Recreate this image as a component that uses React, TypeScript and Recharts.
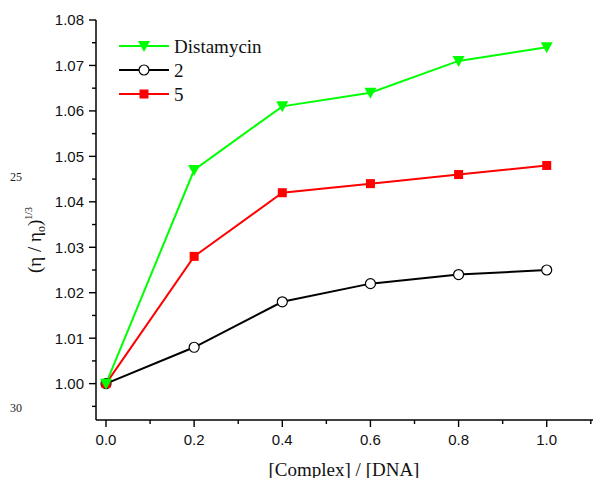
import { LineChart, Line, XAxis, YAxis } from "recharts";

const ratios = [0, 0.2, 0.4, 0.6, 0.8, 1.0];
const distamycin = [1.0, 1.047, 1.061, 1.064, 1.071, 1.074];
const complex2 = [1.0, 1.008, 1.018, 1.022, 1.024, 1.025];
const complex5 = [1.0, 1.028, 1.042, 1.044, 1.046, 1.048];

const xTicks = [0, 0.1, 0.2, 0.3, 0.4, 0.5, 0.6, 0.7, 0.8, 0.9, 1.0, 1.1];
const yTicks = [
  0.995, 1.0, 1.005, 1.01, 1.015, 1.02, 1.025, 1.03, 1.035, 1.04, 1.045, 1.05,
  1.055, 1.06, 1.065, 1.07, 1.075, 1.08,
];

const SERIF = "'Liberation Serif', 'Times New Roman', serif";
const SANS = "'Liberation Sans', Arial, sans-serif";

const GREEN = "#00FF00";
const RED = "#FF0000";
const BLACK = "#000000";

const data = ratios.map((x, i) => ({
  x,
  distamycin: distamycin[i],
  c2: complex2[i],
  c5: complex5[i],
}));

function Triangle({ cx, cy, key }: any) {
  if (cx == null || cy == null) return null;
  return (
    <polygon
      key={key}
      points={`${cx - 6},${cy - 5} ${cx + 6},${cy - 5} ${cx},${cy + 6}`}
      fill={GREEN}
    />
  );
}

function Square({ cx, cy, key }: any) {
  if (cx == null || cy == null) return null;
  return <rect key={key} x={cx - 4.5} y={cy - 4.5} width={9} height={9} fill={RED} />;
}

function XTick({ x, y, payload }: any) {
  const v = payload.value;
  const major = Math.round(v * 10) % 2 === 0;
  return (
    <g>
      <line x1={x} y1={y} x2={x} y2={y + (major ? 7 : 4)} stroke={BLACK} strokeWidth={1.4} />
      {major && (
        <text x={x} y={y + 25} textAnchor="middle" fontSize={15} fontFamily={SANS} fill="#111">
          {v.toFixed(1)}
        </text>
      )}
    </g>
  );
}

function YTick({ x, y, payload }: any) {
  const v = payload.value;
  const major = Math.round(v * 1000) % 10 === 0;
  return (
    <g>
      <line x1={x - (major ? 7 : 4)} y1={y} x2={x} y2={y} stroke={BLACK} strokeWidth={1.4} />
      {major && (
        <text x={x - 12} y={y} dy="0.36em" textAnchor="end" fontSize={15} fontFamily={SANS} fill="#111">
          {v.toFixed(2)}
        </text>
      )}
    </g>
  );
}

const legendItems = [
  { name: "Distamycin", color: GREEN, marker: "triangle" },
  { name: "2", color: BLACK, marker: "circle" },
  { name: "5", color: RED, marker: "square" },
];

function LegendMarker({ kind, cx, cy }: { kind: string; cx: number; cy: number }) {
  if (kind === "triangle") return <Triangle cx={cx} cy={cy} />;
  if (kind === "square") return <Square cx={cx} cy={cy} />;
  return <circle cx={cx} cy={cy} r={5} fill="#fff" stroke={BLACK} strokeWidth={1.2} />;
}

export default function App() {
  return (
    <div style={{ position: "absolute", left: 0, top: 0, width: 593, height: 478, background: "#fff" }}>
      <LineChart width={593} height={478} data={data} margin={{ top: 20, right: 0, bottom: 0, left: 0 }}>
        <XAxis
          dataKey="x"
          type="number"
          domain={[-0.0227, 1.105]}
          allowDataOverflow
          ticks={xTicks}
          interval={0}
          tick={<XTick />}
          tickLine={false}
          tickSize={0}
          tickMargin={0}
          height={58}
          axisLine={{ stroke: BLACK, strokeWidth: 1.5 }}
        />
        <YAxis
          type="number"
          domain={[0.992, 1.08]}
          allowDataOverflow
          ticks={yTicks}
          interval={0}
          tick={<YTick />}
          tickLine={false}
          tickSize={0}
          tickMargin={0}
          width={96}
          axisLine={{ stroke: BLACK, strokeWidth: 1.5 }}
        />
        <Line
          dataKey="c2"
          stroke={BLACK}
          strokeWidth={2}
          isAnimationActive={false}
          dot={{ r: 5, fill: "#fff", stroke: BLACK, strokeWidth: 1.2 }}
        />
        <Line
          dataKey="c5"
          stroke={RED}
          strokeWidth={2}
          isAnimationActive={false}
          dot={(p: any) => <Square key={p.index} cx={p.cx} cy={p.cy} />}
        />
        <Line
          dataKey="distamycin"
          stroke={GREEN}
          strokeWidth={2}
          isAnimationActive={false}
          dot={(p: any) => <Triangle key={p.index} cx={p.cx} cy={p.cy} />}
        />
      </LineChart>

      {/* axis titles, legend and the manuscript line numbers */}
      <svg
        width={593}
        height={478}
        style={{ position: "absolute", left: 0, top: 0, pointerEvents: "none" }}
      >
        <text x={10} y={181} fontSize={12} fontFamily={SERIF} fill="#222">25</text>
        <text x={10} y={412} fontSize={12} fontFamily={SERIF} fill="#222">30</text>

        <text
          transform="translate(41,240) rotate(-90)"
          textAnchor="middle"
          fontSize={19}
          fontFamily={SERIF}
          fill="#111"
        >
          (η / η<tspan dy={4} fontSize={12}>o</tspan>
          <tspan dy={-4}>)</tspan>
          <tspan dy={-9} fontSize={10}>1/3</tspan>
        </text>

        <text x={344} y={476} textAnchor="middle" fontSize={19} fontFamily={SERIF} fill="#111">
          [Complex] / [DNA]
        </text>

        {legendItems.map((it, i) => {
          const cy = 46 + i * 24;
          return (
            <g key={it.name}>
              <line x1={119} y1={cy} x2={169} y2={cy} stroke={it.color} strokeWidth={2} />
              <LegendMarker kind={it.marker} cx={144} cy={cy} />
              <text x={174} y={cy + 7} fontSize={19} fontFamily={SERIF} fill="#111">
                {it.name}
              </text>
            </g>
          );
        })}
      </svg>
    </div>
  );
}
